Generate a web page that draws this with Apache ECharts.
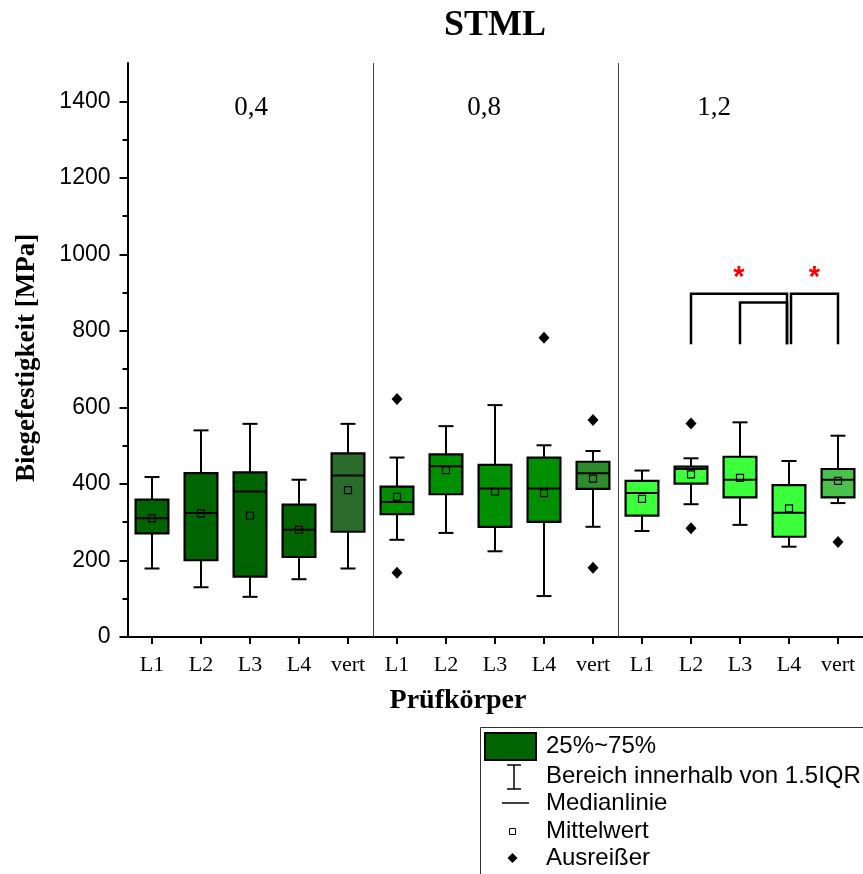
<!DOCTYPE html>
<html>
<head>
<meta charset="utf-8">
<script src="https://cdn.jsdelivr.net/npm/echarts@6/dist/echarts.min.js"></script>
<style>
  html, body { margin: 0; padding: 0; background: #fff; }
  #chart { width: 863px; height: 874px; }
</style>
</head>
<body>
<div id="chart"></div>
<script>
// Specimen names, three thickness groups of five
const categories = ['L1', 'L2', 'L3', 'L4', 'vert', 'L1', 'L2', 'L3', 'L4', 'vert', 'L1', 'L2', 'L3', 'L4', 'vert'];
const groupLabels = ['0,4', '0,8', '1,2'];

// Box statistics per specimen (MPa)
const whiskerLow  = [179, 130, 105, 151, 179, 254, 272, 224, 107, 288, 277, 347, 293, 236, 350];
const quartile1   = [271, 201, 158, 209, 275, 321, 373, 288, 301, 387, 317, 401, 365, 262, 365];
const median      = [310, 324, 380, 280, 422, 353, 446, 388, 388, 428, 376, 439, 411, 325, 411];
const quartile3   = [359, 428, 430, 346, 480, 393, 477, 450, 469, 458, 408, 445, 471, 397, 439];
const whiskerHigh = [418, 540, 557, 411, 557, 469, 551, 606, 501, 486, 435, 467, 561, 460, 526];
const meanValue   = [310, 323, 317, 280, 384, 366, 436, 380, 376, 414, 361, 425, 416, 336, 408];

// Outliers: [specimen index, value]
const outlierIndex = [5, 5, 8, 9, 9, 11, 11, 14];
const outlierValue = [622, 168, 782, 567, 181, 558, 284, 248];

// Significance brackets (indices into categories)
const bracketFrom  = [11, 12, 13];
const bracketTo    = [13, 13, 14];
const bracketLevel = [897, 874, 897];
const bracketBase  = 765;
const bracketMark  = ['*', '', '*'];

// Tick values of the strength axis
const majorTicks = [0, 200, 400, 600, 800, 1000, 1200, 1400];
const minorTicks = [100, 300, 500, 700, 900, 1100, 1300];

// Fill colours: group colour for L1..L4, a muted shade for "vert"
const groupFill = ['#006400', '#008F00', '#3CFF3C'];
const vertFill = ['#2B6B2B', '#2E8B2E', '#4CC04C'];

const serif = '"Liberation Serif", "Times New Roman", serif';
const sans = '"Liberation Sans", Arial, sans-serif';

const boxData = categories.map((c, i) => [i, whiskerLow[i], quartile1[i], median[i], quartile3[i], whiskerHigh[i], meanValue[i]]);
const outlierData = outlierIndex.map((c, i) => [c, outlierValue[i]]);
const bracketData = bracketFrom.map((f, i) => [f, bracketTo[i], bracketLevel[i], i]);
const dividerData = [[4], [9]];

function renderBox(params, api) {
  const i = api.value(0);
  const band = api.size([1, 0])[0];
  const bw = band * 0.67;
  const cap = 15;
  const x = api.coord([i, 0])[0];
  const yLow = api.coord([i, api.value(1)])[1];
  const yQ1 = api.coord([i, api.value(2)])[1];
  const yMed = api.coord([i, api.value(3)])[1];
  const yQ3 = api.coord([i, api.value(4)])[1];
  const yHigh = api.coord([i, api.value(5)])[1];
  const yMean = api.coord([i, api.value(6)])[1];
  const g = Math.floor(i / 5);
  const fill = (i % 5 === 4) ? vertFill[g] : groupFill[g];
  const line = { stroke: '#000', lineWidth: 2 };
  return {
    type: 'group',
    children: [
      { type: 'line', shape: { x1: x, y1: yQ3, x2: x, y2: yHigh }, style: line },
      { type: 'line', shape: { x1: x, y1: yQ1, x2: x, y2: yLow }, style: line },
      { type: 'line', shape: { x1: x - cap / 2, y1: yHigh, x2: x + cap / 2, y2: yHigh }, style: line },
      { type: 'line', shape: { x1: x - cap / 2, y1: yLow, x2: x + cap / 2, y2: yLow }, style: line },
      { type: 'rect', shape: { x: x - bw / 2, y: yQ3, width: bw, height: yQ1 - yQ3 }, style: { fill: fill, stroke: '#000', lineWidth: 2.2 } },
      { type: 'line', shape: { x1: x - bw / 2, y1: yMed, x2: x + bw / 2, y2: yMed }, style: line },
      { type: 'rect', shape: { x: x - 3.5, y: yMean - 3.5, width: 7, height: 7 }, style: { fill: 'none', stroke: '#000', lineWidth: 1.2 } }
    ]
  };
}

function renderDivider(params, api) {
  const i = api.value(0);
  const band = api.size([1, 0])[0];
  const x = Math.round(api.coord([i, 0])[0] + band / 2) + 0.5;
  const cs = params.coordSys;
  return {
    type: 'line',
    shape: { x1: x, y1: cs.y, x2: x, y2: cs.y + cs.height },
    style: { stroke: '#444', lineWidth: 1 }
  };
}

function renderBracket(params, api) {
  const from = api.value(0), to = api.value(1), level = api.value(2), k = api.value(3);
  const leftNudge = bracketTo.includes(from) ? 2 : 0;
  const rightNudge = bracketFrom.includes(to) ? -2 : 0;
  const xL = api.coord([from, level])[0] + leftNudge;
  const xR = api.coord([to, level])[0] + rightNudge;
  const yTop = api.coord([from, level])[1];
  const yBase = api.coord([from, bracketBase])[1];
  const children = [{
    type: 'polyline',
    shape: { points: [[xL, yBase], [xL, yTop], [xR, yTop], [xR, yBase]] },
    style: { stroke: '#000', lineWidth: 2.5, fill: 'none' }
  }];
  if (bracketMark[k]) {
    children.push({
      type: 'text',
      style: {
        text: bracketMark[k], x: (xL + xR) / 2, y: yTop - 16,
        align: 'center', verticalAlign: 'middle',
        fill: '#FF0000', font: 'bold 29px ' + sans
      }
    });
  }
  return { type: 'group', children: children };
}

// Legend drawn as a framed key
const legendX = 480, legendY = 727;
const legendText = (t, y) => ({
  type: 'text', x: 546, y: y,
  style: { text: t, font: '24px ' + sans, fill: '#000', verticalAlign: 'middle' }
});

const chart = echarts.init(document.getElementById('chart'), null, { renderer: 'canvas' });
chart.setOption({
  animation: false,
  backgroundColor: '#fff',
  grid: { left: 127.5, right: 0.5, top: 63, bottom: 237, containLabel: false },
  xAxis: [{
    type: 'category', data: categories, position: 'bottom',
    axisLine: { show: true, lineStyle: { color: '#000', width: 2 } },
    axisTick: { show: true, inside: false, alignWithLabel: true, length: 7, lineStyle: { color: '#000', width: 2 } },
    axisLabel: { show: true, interval: 0, margin: 17, fontFamily: serif, fontSize: 22, color: '#000' },
    splitLine: { show: false }
  }, {
    type: 'category', data: categories, position: 'top',
    axisLine: { show: true, lineStyle: { color: '#000', width: 2 } },
    axisTick: { show: false }, axisLabel: { show: false }, splitLine: { show: false }
  }],
  yAxis: [{
    type: 'value', min: 0, max: 1500, interval: 100, position: 'left', offset: 0,
    axisLine: { show: true, lineStyle: { color: '#000', width: 2 } },
    axisTick: { show: true, inside: false, customValues: majorTicks, length: 8, lineStyle: { color: '#000', width: 2 } },
    axisLabel: { show: true, customValues: majorTicks, margin: 17, fontFamily: sans, fontSize: 23, color: '#000',
      formatter: v => String(v) },
    splitLine: { show: false }
  }, {
    type: 'value', min: 0, max: 1500, interval: 100, position: 'left', offset: 0,
    axisLine: { show: false },
    axisTick: { show: true, inside: false, customValues: minorTicks, length: 5, lineStyle: { color: '#000', width: 2 } },
    axisLabel: { show: false },
    splitLine: { show: false }
  }],
  graphic: [
    { type: 'text', x: 495, y: 26,
      style: { text: 'STML', font: 'bold 36px ' + serif, fill: '#000', align: 'center', verticalAlign: 'middle' } },
    { type: 'text', x: 14, y: 482, rotation: Math.PI / 2, originX: 0, originY: 0,
      style: { text: 'Biegefestigkeit [MPa]', font: 'bold 27px ' + serif, fill: '#000' } },
    { type: 'text', x: 458, y: 701,
      style: { text: 'Prüfkörper', font: 'bold 28px ' + serif, fill: '#000', align: 'center', verticalAlign: 'middle' } },
    { type: 'text', x: 251, y: 108,
      style: { text: groupLabels[0], font: '27px ' + serif, fill: '#000', align: 'center', verticalAlign: 'middle' } },
    { type: 'text', x: 484, y: 108,
      style: { text: groupLabels[1], font: '27px ' + serif, fill: '#000', align: 'center', verticalAlign: 'middle' } },
    { type: 'text', x: 714, y: 108,
      style: { text: groupLabels[2], font: '27px ' + serif, fill: '#000', align: 'center', verticalAlign: 'middle' } },
    // key
    { type: 'rect', shape: { x: legendX + 0.5, y: legendY + 0.5, width: 420, height: 200 },
      style: { fill: '#fff', stroke: '#333', lineWidth: 1 } },
    { type: 'rect', shape: { x: 485, y: 733, width: 51, height: 27 },
      style: { fill: groupFill[0], stroke: '#000', lineWidth: 2 } },
    { type: 'line', shape: { x1: 514, y1: 765, x2: 514, y2: 789 }, style: { stroke: '#000', lineWidth: 1.5 } },
    { type: 'line', shape: { x1: 507, y1: 765, x2: 521, y2: 765 }, style: { stroke: '#000', lineWidth: 1.5 } },
    { type: 'line', shape: { x1: 507, y1: 789, x2: 521, y2: 789 }, style: { stroke: '#000', lineWidth: 1.5 } },
    { type: 'line', shape: { x1: 502, y1: 803, x2: 529, y2: 803 }, style: { stroke: '#000', lineWidth: 1.5 } },
    { type: 'rect', shape: { x: 509.5, y: 828.5, width: 6, height: 6 }, style: { fill: '#fff', stroke: '#000', lineWidth: 1 } },
    { type: 'polygon', shape: { points: [[512.5, 853], [517.5, 858], [512.5, 863], [507.5, 858]] }, style: { fill: '#000' } },
    legendText('25%~75%', 746),
    legendText('Bereich innerhalb von 1.5IQR', 776),
    legendText('Medianlinie', 803),
    legendText('Mittelwert', 831),
    legendText('Ausreißer', 858)
  ],
  series: [
    { type: 'custom', name: 'divider', data: dividerData, renderItem: renderDivider, encode: { x: 0 }, silent: true, z: 1 },
    { type: 'custom', name: 'box', data: boxData, renderItem: renderBox, encode: { x: 0, y: [1, 2, 3, 4, 5, 6] }, z: 3 },
    { type: 'scatter', name: 'Ausreißer', data: outlierData, symbol: 'diamond', symbolSize: [11, 12],
      itemStyle: { color: '#000', opacity: 1 }, z: 4 },
    { type: 'custom', name: 'bracket', data: bracketData, renderItem: renderBracket, encode: { x: [0, 1], y: 2 }, z: 4 }
  ]
});
</script>
</body>
</html>
